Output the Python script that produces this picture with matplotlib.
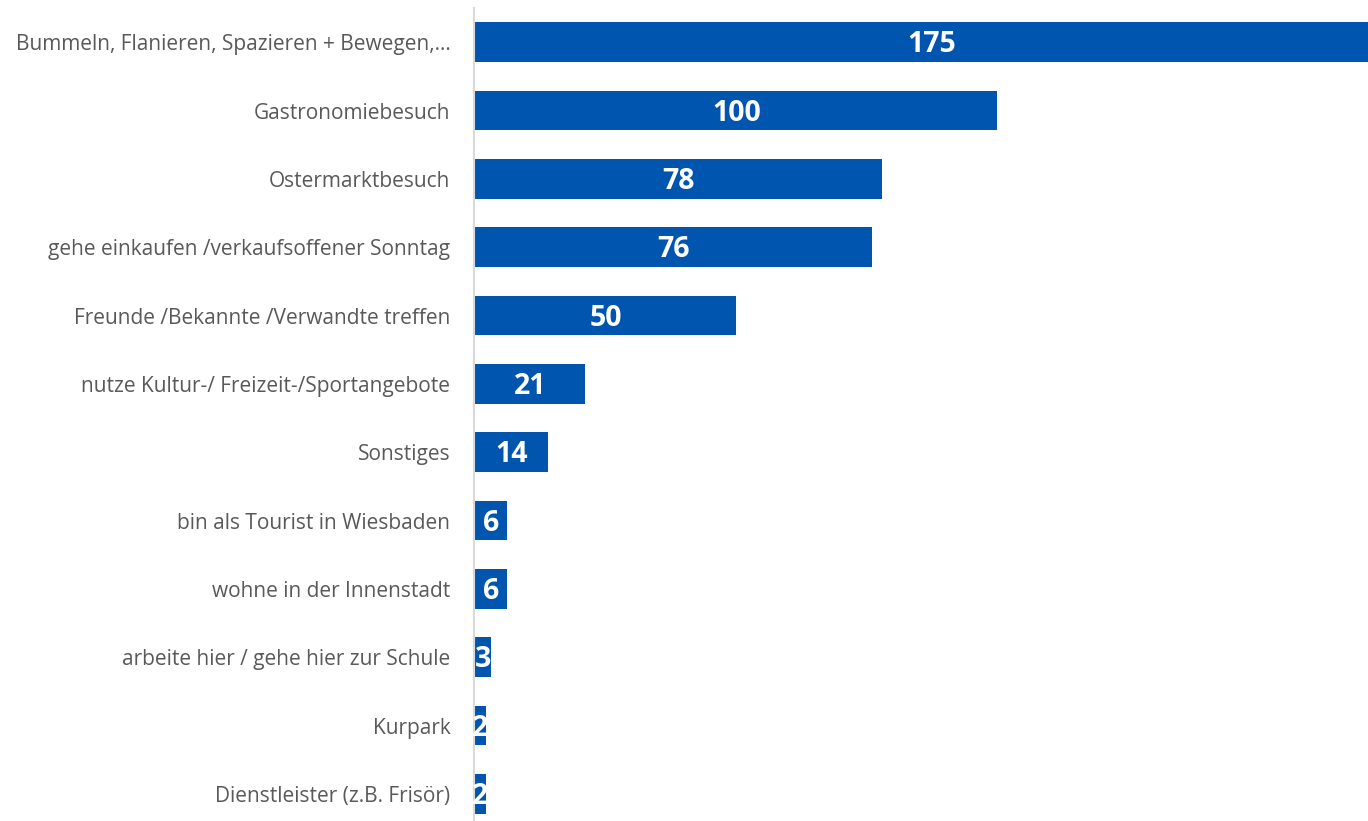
import matplotlib.pyplot as plt

categories = [
    'Bummeln, Flanieren, Spazieren + Bewegen,…',
    'Gastronomiebesuch',
    'Ostermarktbesuch',
    'gehe einkaufen /verkaufsoffener Sonntag',
    'Freunde /Bekannte /Verwandte treffen',
    'nutze Kultur-/ Freizeit-/Sportangebote',
    'Sonstiges',
    'bin als Tourist in Wiesbaden',
    'wohne in der Innenstadt',
    'arbeite hier / gehe hier zur Schule',
    'Kurpark',
    'Dienstleister (z.B. Frisör)',
]
values = [175, 100, 78, 76, 50, 21, 14, 6, 6, 3, 2, 2]

plt.rcParams['font.family'] = ['Open Sans', 'DejaVu Sans']

fig = plt.figure(figsize=(13.68, 8.21), dpi=100)
ax = fig.add_axes([474 / 1368, -7 / 821, 894 / 1368, 820 / 821])

ypos = list(range(len(categories)))
ax.barh(ypos, values, height=0.585, color='#0055AE', left=0.25)
ax.set_xlim(0, 171.3)
ax.set_ylim(len(categories) - 0.5, -0.5)

# value labels in the middle of each bar
for y, v in zip(ypos, values):
    ax.text(v / 2 + 0.25, y + 0.04, str(v), ha='center', va='center',
            color='white', fontsize=20.5, fontweight='bold')

ax.set_yticks(ypos)
ax.set_yticklabels(categories, fontsize=15, color='#595959')
ax.tick_params(axis='y', length=0, pad=17)
ax.set_xticks([])
for side in ['top', 'right', 'bottom']:
    ax.spines[side].set_visible(False)
ax.spines['left'].set_color('#D9D9D9')
ax.spines['left'].set_linewidth(1.5)

fig.savefig('out.png', dpi=100)
